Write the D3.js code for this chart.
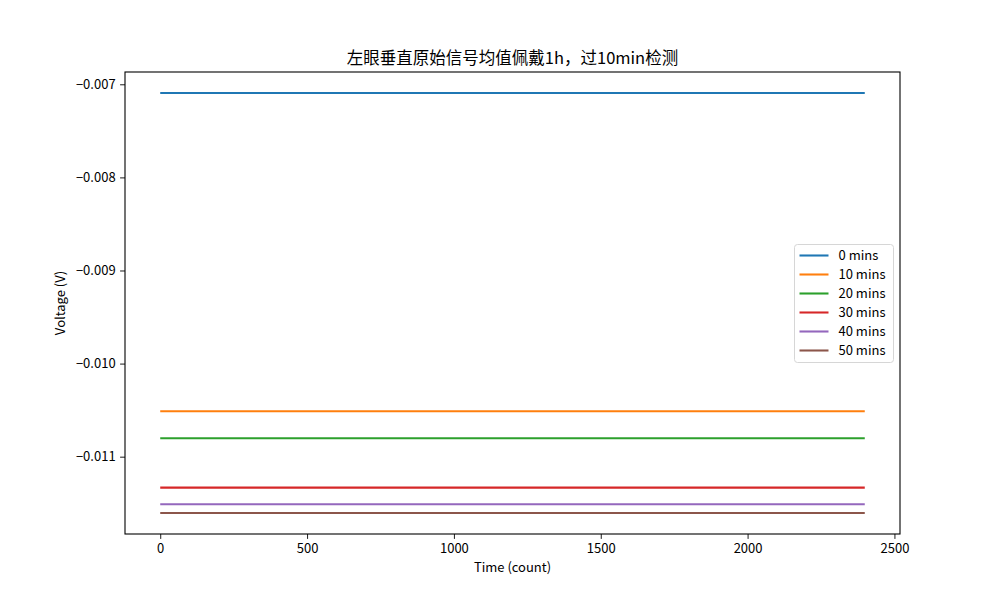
<!DOCTYPE html>
<html>
<head>
<meta charset="utf-8">
<script src="https://cdn.jsdelivr.net/npm/d3@7"></script>
<style>
  body { margin: 0; background: #fff; }
  text { font-family: "Noto Sans CJK SC", sans-serif; }
</style>
</head>
<body>
<svg id="chart"></svg>
<script>
var seriesNames = ["0 mins", "10 mins", "20 mins", "30 mins", "40 mins", "50 mins"];
var seriesMeans = [-0.0070935, -0.010512, -0.010802, -0.011332, -0.011511, -0.011605];
var seriesColors = ["#1f77b4", "#ff7f0e", "#2ca02c", "#d62728", "#9467bd", "#8c564b"];
var timeRange = [0, 2399];
var xTicks = [0, 500, 1000, 1500, 2000, 2500];
var yTicks = [-0.007, -0.008, -0.009, -0.010, -0.011];

var W = 1000, H = 600;
var m = { left: 125, right: 100, top: 72, bottom: 66 };
var iw = W - m.left - m.right, ih = H - m.top - m.bottom;

var svg = d3.select("#chart").attr("width", W).attr("height", H);
var g = svg.append("g").attr("transform", "translate(" + m.left + "," + m.top + ")");

// 5% padding like matplotlib
var xSpan = timeRange[1] - timeRange[0];
var x = d3.scaleLinear()
  .domain([timeRange[0] - xSpan * 0.05, timeRange[1] + xSpan * 0.05])
  .range([0, iw]);
var yMin = d3.min(seriesMeans), yMax = d3.max(seriesMeans);
var ySpan = yMax - yMin;
var y = d3.scaleLinear()
  .domain([yMin - ySpan * 0.05, yMax + ySpan * 0.05])
  .range([ih, 0]);

var fmtY = function(d) { return d3.format(".3f")(d).replace("-", "\u2212"); };

var xAxis = g.append("g").attr("transform", "translate(0," + ih + ")")
  .call(d3.axisBottom(x).tickValues(xTicks).tickSize(4.9).tickPadding(4.5).tickFormat(d3.format("d")));
var yAxis = g.append("g")
  .call(d3.axisLeft(y).tickValues(yTicks).tickSize(4.9).tickPadding(4.5).tickFormat(fmtY));
[xAxis, yAxis].forEach(function(a) {
  a.select(".domain").remove();
  a.selectAll("line").attr("stroke", "#000").attr("stroke-width", 0.9);
  a.selectAll("text").attr("font-size", 13).attr("fill", "#000")
    .style("font-family", "'Noto Sans CJK SC', sans-serif");
});

// lines
var line = d3.line().x(function(d) { return x(d[0]); }).y(function(d) { return y(d[1]); });
g.selectAll("path.series").data(seriesMeans).enter().append("path")
  .attr("class", "series")
  .attr("d", function(v) { return line([[timeRange[0], v], [timeRange[1], v]]); })
  .attr("fill", "none")
  .attr("stroke", function(d, i) { return seriesColors[i]; })
  .attr("stroke-width", 2.08);

// frame
g.append("rect").attr("width", iw).attr("height", ih)
  .attr("fill", "none").attr("stroke", "#000").attr("stroke-width", 1.1);

// title & labels
svg.append("text").attr("x", m.left + iw / 2).attr("y", 64)
  .attr("text-anchor", "middle").attr("font-size", 16.5)
  .text("左眼垂直原始信号均值佩戴1h，过10min检测");
svg.append("text").attr("x", m.left + iw / 2).attr("y", 572)
  .attr("text-anchor", "middle").attr("font-size", 13)
  .text("Time (count)");
svg.append("text").attr("transform", "translate(65," + (m.top + ih / 2) + ") rotate(-90)")
  .attr("text-anchor", "middle").attr("font-size", 13)
  .text("Voltage (V)");

// legend
var lg = svg.append("g").attr("transform", "translate(794.5,244.5)");
lg.append("rect").attr("width", 99).attr("height", 118).attr("rx", 3)
  .attr("fill", "#fff").attr("fill-opacity", 0.8).attr("stroke", "#d6d6d6");
var items = lg.selectAll("g.item").data(seriesNames).enter().append("g")
  .attr("transform", function(d, i) { return "translate(0," + (11 + i * 19) + ")"; });
items.append("line").attr("x1", 5).attr("x2", 34)
  .attr("stroke", function(d, i) { return seriesColors[i]; }).attr("stroke-width", 2.08);
items.append("text").attr("x", 44).attr("dy", "0.35em").attr("font-size", 13)
  .text(function(d) { return d; });
</script>
</body>
</html>
